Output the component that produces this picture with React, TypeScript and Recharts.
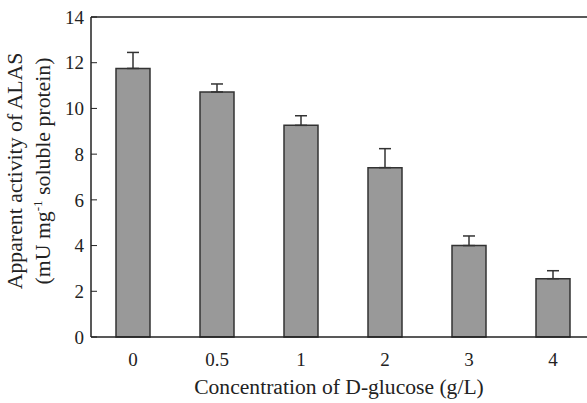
import React from "react";
import {
  BarChart,
  Bar,
  XAxis,
  YAxis,
  ErrorBar,
  ReferenceLine,
} from "recharts";

const categories = ["0", "0.5", "1", "2", "3", "4"];
const activity = [11.75, 10.72, 9.26, 7.41, 4.0, 2.55];
const errorUp = [0.7, 0.35, 0.42, 0.83, 0.42, 0.35];
const yTicks = [0, 2, 4, 6, 8, 10, 12, 14];
const edgeTicks = [1, 2, 3, 4, 5];

const data = categories.map((c, i) => ({
  conc: c,
  activity: activity[i],
  err: [0, errorUp[i]],
}));

const ink = "#222";
const font = "Liberation Serif";

function YTitle({ viewBox }: any) {
  const cy = viewBox.y + viewBox.height / 2 - 6;
  return (
    <g style={{ fontFamily: font, fontSize: 21.8 }} fill={ink}>
      <text x={22} y={cy} textAnchor="middle" transform={`rotate(-90 22 ${cy})`}>
        Apparent activity of ALAS
      </text>
      <text x={50} y={cy} textAnchor="middle" transform={`rotate(-90 50 ${cy})`}>
        (mU mg
        <tspan style={{ fontSize: 13 }} dy={-8}>-1</tspan>
        <tspan dy={8}> soluble protein)</tspan>
      </text>
    </g>
  );
}

function XTitle({ viewBox }: any) {
  const cx = viewBox.x + viewBox.width / 2 - 4;
  return (
    <text
      x={cx}
      y={viewBox.y + 57}
      textAnchor="middle"
      style={{ fontFamily: font, fontSize: 21.6 }}
      fill={ink}
    >
      Concentration of D-glucose (g/L)
    </text>
  );
}

export default function App() {
  return (
    <div
      style={{
        position: "absolute",
        left: 0,
        top: 0,
        width: 587,
        height: 403,
        overflow: "hidden",
        background: "#fff",
        fontFamily: font,
      }}
    >
      <BarChart
        width={600}
        height={403}
        data={data}
        margin={{ top: 17, right: 5, bottom: 0, left: 0 }}
        style={{ fontFamily: font }}
      >
        <XAxis
          dataKey="conc"
          height={66}
          tickLine={false}
          tickSize={0}
          tickMargin={16}
          axisLine={{ stroke: ink, strokeWidth: 1.5 }}
          tick={{ fill: ink, fontSize: 19, style: { fontFamily: font } }}
          label={<XTitle />}
        />
        <XAxis
          xAxisId="edge"
          type="number"
          domain={[0, 6]}
          allowDataOverflow
          ticks={edgeTicks}
          mirror
          tick={false}
          tickSize={6}
          axisLine={false}
          tickLine={{ stroke: ink, strokeWidth: 1 }}
        />
        <YAxis
          width={91}
          domain={[0, 14]}
          ticks={yTicks}
          interval={0}
          tickSize={-6}
          tickMargin={13}
          axisLine={{ stroke: ink, strokeWidth: 1.5 }}
          tickLine={{ stroke: ink, strokeWidth: 1 }}
          tick={{ fill: ink, fontSize: 19, style: { fontFamily: font } }}
          label={<YTitle />}
        />
        <ReferenceLine y={14} stroke={ink} strokeWidth={1.5} />
        <Bar
          dataKey="activity"
          fill="#999999"
          stroke="#333"
          strokeWidth={1.5}
          barSize={34}
          isAnimationActive={false}
        >
          <ErrorBar dataKey="err" direction="y" width={6} stroke="#333" strokeWidth={1.5} />
        </Bar>
      </BarChart>
    </div>
  );
}
